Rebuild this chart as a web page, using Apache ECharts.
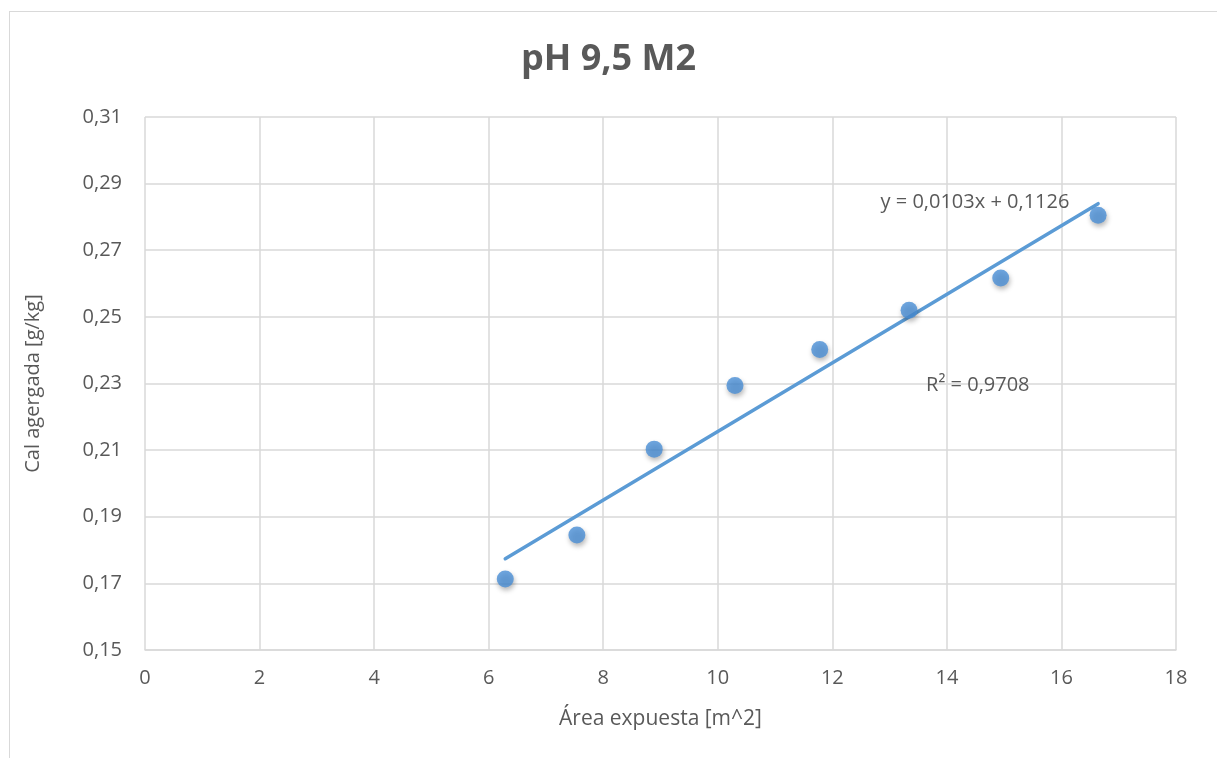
<!DOCTYPE html>
<html>
<head>
<meta charset="utf-8">
<script src="https://cdn.jsdelivr.net/npm/echarts@6/dist/echarts.min.js"></script>
<style>
  html, body { margin: 0; padding: 0; background: #fff; }
  #frame { position: absolute; left: 9px; top: 11px; width: 1230px; height: 760px; border: 1px solid #d9d9d9; box-sizing: border-box; }
  #chart { position: absolute; left: 0; top: 0; width: 1217px; height: 758px; }
</style>
</head>
<body>
<div id="frame"></div>
<div id="chart"></div>
<script>
// Exposed area (m^2) vs. lime added (g/kg)
const areaValues = [6.29, 7.54, 8.89, 10.30, 11.78, 13.34, 14.94, 16.64];
const limeValues = [0.1713, 0.1845, 0.2103, 0.2294, 0.2402, 0.2520, 0.2617, 0.2805];

// Linear fit coefficients and their printed labels
const fitSlope = 0.0103;
const fitIntercept = 0.1126;
const fitEquation = 'y = 0,0103x + 0,1126';
const fitR2 = 'R² = 0,9708';

const xTicks = { min: 0, max: 18, interval: 2 };
const yTicks = { min: 0.15, max: 0.31, interval: 0.02 };

const FONT = '"Open Sans", Lato, sans-serif';
const TXT = '#595959';
const GRIDC = '#d9d9d9';
const BLUE = '#5b9bd5';

const xFirst = Math.min(...areaValues);
const xLast = Math.max(...areaValues);
const trendData = [
  [xFirst, fitSlope * xFirst + fitIntercept],
  [xLast, fitSlope * xLast + fitIntercept]
];
const points = areaValues.map((x, i) => [x, limeValues[i]]);

const chart = echarts.init(document.getElementById('chart'));
chart.setOption({
  animation: false,
  title: {
    text: 'pH 9,5 M2',
    left: 'center',
    top: 37,
    textStyle: { fontFamily: FONT, fontSize: 36, fontWeight: 'bold', color: TXT }
  },
  grid: { left: 145, right: 41, top: 117, bottom: 108 },
  xAxis: {
    type: 'value',
    min: xTicks.min, max: xTicks.max, interval: xTicks.interval,
    name: 'Área expuesta [m^2]',
    nameLocation: 'middle',
    nameGap: 59,
    nameTextStyle: { fontFamily: FONT, fontSize: 21, color: TXT },
    axisLine: { show: true, lineStyle: { color: GRIDC, width: 1.5 } },
    axisTick: { show: false },
    axisLabel: { fontFamily: FONT, fontSize: 20, color: TXT, margin: 18 },
    splitLine: { show: true, lineStyle: { color: GRIDC, width: 1.5 } }
  },
  yAxis: {
    type: 'value',
    min: yTicks.min, max: yTicks.max, interval: yTicks.interval,
    name: 'Cal agergada [g/kg]',
    nameLocation: 'middle',
    nameGap: 102,
    nameTextStyle: { fontFamily: FONT, fontSize: 20, color: TXT },
    axisLine: { show: false },
    axisTick: { show: false },
    axisLabel: {
      fontFamily: FONT, fontSize: 20, color: TXT, margin: 23,
      formatter: v => v.toFixed(2).replace('.', ',')
    },
    splitLine: { show: true, lineStyle: { color: GRIDC, width: 1.5 } }
  },
  series: [
    {
      type: 'line',
      data: trendData,
      symbol: 'none',
      lineStyle: { color: BLUE, width: 3.5, cap: 'round' },
      silent: true,
      z: 2,
      markPoint: {
        symbol: 'circle',
        symbolSize: 0,
        label: { show: true, fontFamily: FONT, fontSize: 20, color: TXT, position: 'inside' },
        data: [
          { coord: [14.49, 0.2843], label: { formatter: fitEquation } },
          { coord: [14.54, 0.2296], label: { formatter: fitR2 } }
        ]
      }
    },
    {
      type: 'scatter',
      data: points,
      symbol: 'circle',
      symbolSize: 17,
      itemStyle: {
        color: '#4a8fd6',
        shadowBlur: 5,
        shadowColor: 'rgba(0,0,0,0.35)',
        shadowOffsetX: 1,
        shadowOffsetY: 3
      },
      z: 3
    }
  ]
});
</script>
</body>
</html>
